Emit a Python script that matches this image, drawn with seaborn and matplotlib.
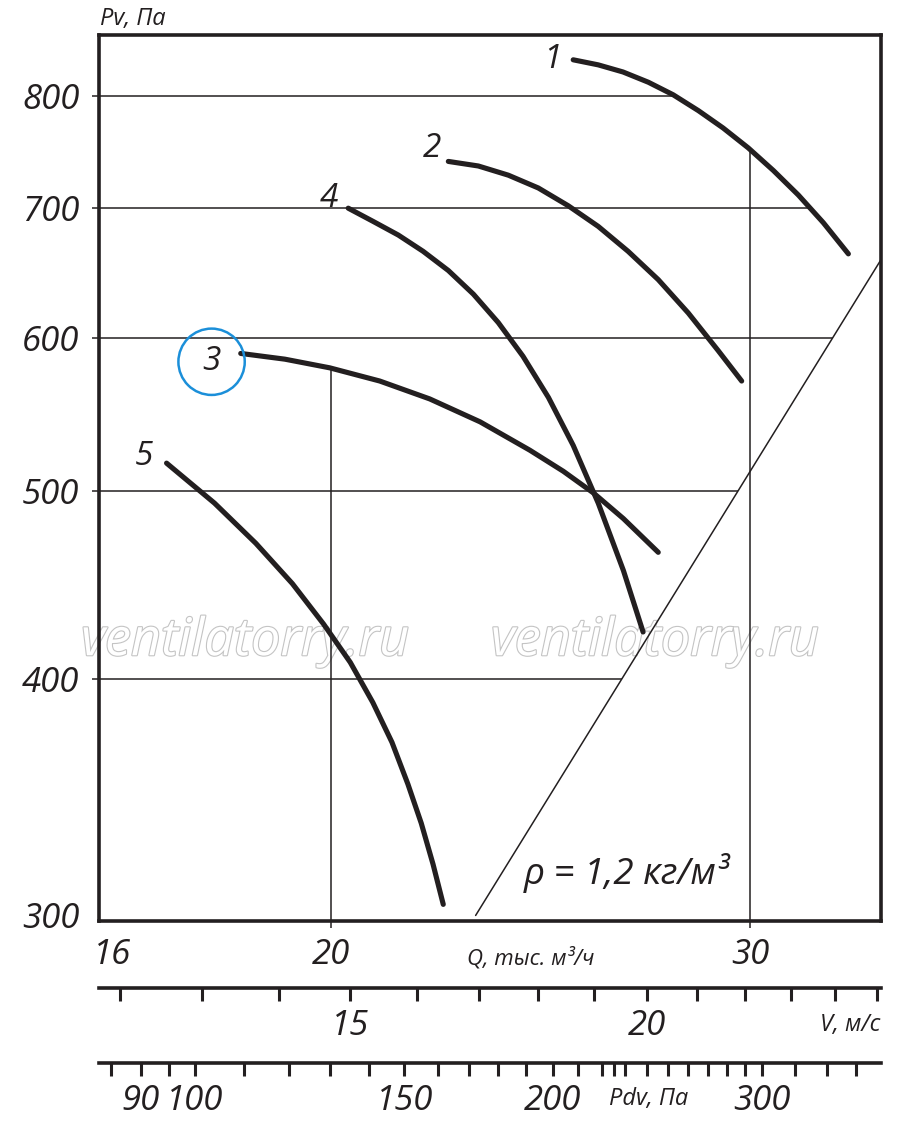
import numpy as np
import matplotlib
matplotlib.use('Agg')
import matplotlib.pyplot as plt
import matplotlib.patheffects as pe
from matplotlib.transforms import ScaledTranslation
from matplotlib.ticker import FixedLocator, FixedFormatter, NullLocator, NullFormatter
import seaborn as sns

# fan curves: Q in thousand m3/h, Pv in Pa
q1 = [25.28, 25.90, 26.53, 27.19, 27.85, 28.54, 29.23, 29.95, 30.69, 31.44, 32.21, 33.0]
p1 = [835, 830, 823, 813, 801, 786, 770, 752, 732, 711, 688, 663]
q2 = [22.40, 23.06, 23.74, 24.44, 25.16, 25.90, 26.66, 27.45, 28.26, 29.09, 29.76]
p2 = [740, 736, 728, 717, 702, 685, 665, 643, 618, 591, 570]
q3 = [18.32, 19.12, 19.97, 20.96, 22.0, 23.1, 24.24, 25.04, 25.78, 26.54, 27.45]
p3 = [589, 585, 579, 570, 558, 543, 525, 512, 499, 484, 465]
q4 = [20.33, 20.83, 21.34, 21.86, 22.40, 22.95, 23.51, 24.08, 24.68, 25.28, 25.90, 26.54, 27.05]
p4 = [700, 689, 678, 665, 650, 632, 611, 587, 559, 528, 493, 455, 423]
q5 = [17.05, 17.86, 18.59, 19.26, 19.85, 20.37, 20.82, 21.21, 21.54, 21.82, 22.07, 22.29]
p5 = [517, 493, 470, 448, 427, 408, 389, 371, 353, 337, 321, 306]
curve_names = ['1', '2', '3', '4', '5']

# rho = 1.2 line (end points)
q_rho = [23.0, 34.1]
p_rho = [302, 660]

# axes
q_ticks = [16, 20, 30]
p_ticks = [300, 400, 500, 600, 700, 800]
grid_p = [400, 500, 600, 700, 800]
grid_q = [20, 30]

# secondary scales
k_v = 0.7366          # V, m/s per thousand m3/h
rho = 1.2
v_major = [15, 20]
v_minor = [12, 13, 14, 16, 17, 18, 19, 21, 22, 23, 24, 25]
pdv_major = [90, 100, 150, 200, 300]
pdv_minor = [85, 95, 110, 120, 130, 140, 160, 170, 180, 190, 210, 220, 225, 230,
             240, 250, 260, 270, 280, 290, 320, 340, 360]

Q_LIM = (15.97, 34.06)
P_LIM = (300, 860)

sns.set_style('ticks')
plt.rcParams['font.family'] = ['Open Sans', 'DejaVu Sans']
plt.rcParams['font.style'] = 'italic'
ink = '#231f20'
blue = '#1b8fd9'

fig = plt.figure(figsize=(9, 11.25), dpi=100)
ax = fig.add_axes([0.11, 0.1813, 0.8689, 0.7876])
ax.set_xscale('log')
ax.set_yscale('log')
ax.set_xlim(Q_LIM)
ax.set_ylim(P_LIM)


# grid lines stop at curve 1 or at the rho line
def q_on_rho(p):
    return np.exp(np.interp(np.log(p), np.log(p_rho), np.log(q_rho)))


for p in grid_p:
    q_end = min(q_on_rho(p), np.interp(p, p1[::-1], q1[::-1]))
    ax.hlines(p, Q_LIM[0], q_end, color=ink, lw=1.1, zorder=2)
ax.vlines(grid_q[0], P_LIM[0], np.interp(grid_q[0], q3, p3), color=ink, lw=1.1, zorder=2)
ax.vlines(grid_q[1], P_LIM[0], np.interp(grid_q[1], q1, p1), color=ink, lw=1.1, zorder=2)

sns.lineplot(x=q_rho, y=p_rho, ax=ax, color=ink, lw=1.1, sort=False, estimator=None, zorder=2)

# watermark (outlined text)
for xf in [0.187, 0.711]:
    ax.text(xf, 0.300, 'ventilatorry.ru', transform=ax.transAxes, fontsize=37.5,
            color='white', ha='center', va='baseline', zorder=1,
            path_effects=[pe.Stroke(linewidth=1.6, foreground='#c4c4c4'), pe.Normal()])

offsets = [(-15, 0), (-12, 9), (-21, -6), (-14, 7), (-16, 5)]
for q, p, name, off in zip([q1, q2, q3, q4, q5], [p1, p2, p3, p4, p5], curve_names, offsets):
    sns.lineplot(x=q, y=p, ax=ax, color=ink, lw=3.7, sort=False, estimator=None,
                 solid_capstyle='round', solid_joinstyle='round', zorder=3)
    kw = {}
    if name == '3':
        kw['bbox'] = dict(boxstyle='circle,pad=0.5', fc='none', ec=blue, lw=1.8)
    ax.annotate(name, xy=(q[0], p[0]), xytext=off, textcoords='offset points',
                ha='center', va='center', fontsize=24, color=ink, **kw)

ax.text(0.675, 0.054, 'ρ = 1,2 кг/м³', transform=ax.transAxes, fontsize=26.5,
        ha='center', va='center', color=ink)
ax.text(0.4706, -0.042, 'Q, тыс. м³/ч', transform=ax.transAxes, fontsize=16,
        ha='left', va='center', color=ink)

ax.xaxis.set_major_locator(FixedLocator(q_ticks))
ax.xaxis.set_major_formatter(FixedFormatter([str(v) for v in q_ticks]))
ax.xaxis.set_minor_locator(NullLocator())
ax.yaxis.set_major_locator(FixedLocator(p_ticks))
ax.yaxis.set_major_formatter(FixedFormatter([str(v) for v in p_ticks]))
ax.yaxis.set_minor_locator(NullLocator())
ax.tick_params(axis='both', which='major', direction='out', length=5, width=1.1,
               color=ink, labelcolor=ink, labelsize=25)
ax.tick_params(axis='y', pad=9)
ax.tick_params(axis='x', pad=7)
lbl16 = ax.get_xticklabels()[0]
lbl16.set_ha('left')
lbl16.set_transform(lbl16.get_transform() + ScaledTranslation(-6 / 72, 0, fig.dpi_scale_trans))
lbl300 = ax.get_yticklabels()[0]
lbl300.set_transform(lbl300.get_transform() + ScaledTranslation(0, 4 / 72, fig.dpi_scale_trans))
ax.xaxis.get_major_ticks()[0].tick1line.set_visible(False)
ax.yaxis.get_major_ticks()[0].tick1line.set_visible(False)
for s in ax.spines.values():
    s.set_linewidth(2.6)
    s.set_color(ink)
    s.set_zorder(4)

fig.text(0.111, 0.983, 'Pv, Па', fontsize=17, ha='left', va='center', color=ink)


def scale_axis(ypos, lim, majors, minors):
    sx = fig.add_axes([0.11, ypos, 0.8689, 0.0001])
    sx.patch.set_visible(False)
    sx.set_xscale('log')
    sx.set_xlim(lim)
    for s in ['top', 'left', 'right']:
        sx.spines[s].set_visible(False)
    sx.spines['bottom'].set_linewidth(2.6)
    sx.spines['bottom'].set_color(ink)
    sx.set_yticks([])
    sx.xaxis.set_major_locator(FixedLocator(majors))
    sx.xaxis.set_major_formatter(FixedFormatter([str(m) for m in majors]))
    sx.xaxis.set_minor_locator(FixedLocator(minors))
    sx.xaxis.set_minor_formatter(NullFormatter())
    sx.tick_params(axis='x', which='both', direction='out', length=9, width=2.2,
                   color=ink, labelcolor=ink, labelsize=25, pad=6)
    return sx


v_lim = (k_v * Q_LIM[0], k_v * Q_LIM[1])
scale_axis(1 - 988 / 1125, v_lim, v_major, v_minor)
pdv_lim = (rho / 2 * v_lim[0] ** 2, rho / 2 * v_lim[1] ** 2)
scale_axis(1 - 1063 / 1125, pdv_lim, pdv_major, pdv_minor)

fig.text(0.978, 0.0889, 'V, м/с', fontsize=17, ha='right', va='center', color=ink)
fig.text(0.677, 0.0231, 'Pdv, Па', fontsize=17, ha='left', va='center', color=ink)

fig.savefig('out.png', dpi=100)
